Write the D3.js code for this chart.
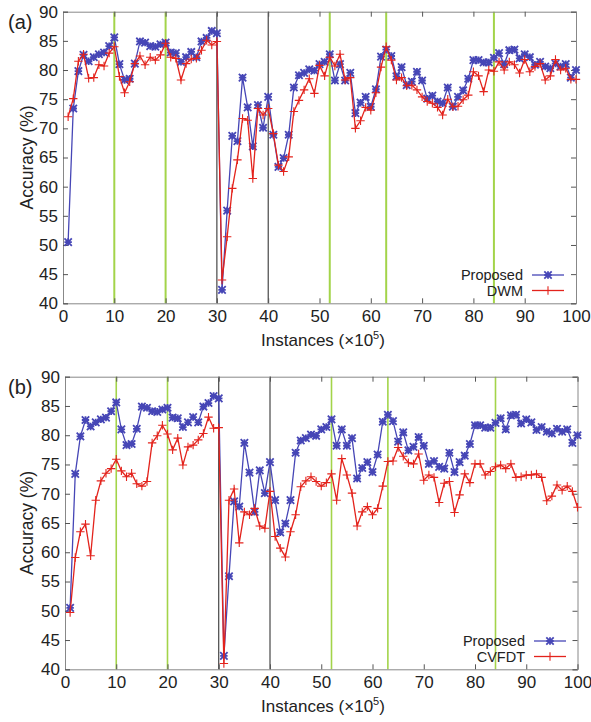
<!DOCTYPE html>
<html>
  <head>
    <title>Accuracy</title>
    <script src="https://d3js.org/d3.v7.min.js"></script>
    <style>
      body { margin: 0; background: #fff; }
      text { font-family: "Liberation Sans", Arial, sans-serif; fill: #222; }
    </style>
  </head>
  <body>
    <div id="chart"></div>
    <script>
      // Data (accuracy %, one value per 10^5 instances)
      const instances = [1,2,3,4,5,6,7,8,9,10,11,12,13,14,15,16,17,18,19,20,
        21,22,23,24,25,26,27,28,29,30,31,32,33,34,35,36,37,38,39,40,
        41,42,43,44,45,46,47,48,49,50,51,52,53,54,55,56,57,58,59,60,
        61,62,63,64,65,66,67,68,69,70,71,72,73,74,75,76,77,78,79,80,
        81,82,83,84,85,86,87,88,89,90,91,92,93,94,95,96,97,98,99,100];

      const proposed = [50.5,73.4,79.8,82.6,81.5,82.2,82.7,83.0,84.1,85.6,
        81.0,78.3,78.5,81.1,84.9,84.7,84.1,84.0,84.4,84.7,
        83.0,82.9,81.4,82.2,83.1,82.2,84.9,85.5,86.7,86.3,
        42.3,55.9,68.7,67.8,78.7,73.6,66.9,74.0,70.1,75.4,
        68.9,63.4,64.9,68.9,77.0,79.1,79.5,80.1,79.9,81.0,
        81.4,82.7,78.2,81.0,78.2,79.5,72.6,74.4,75.4,73.7,
        76.7,82.3,83.5,82.4,78.9,80.5,77.4,78.0,79.7,78.2,
        75.1,75.6,74.6,74.3,77.0,73.7,75.4,76.5,78.5,81.7,
        81.7,81.3,81.3,82.1,82.9,81.0,83.4,83.5,82.0,82.7,
        82.2,80.9,81.4,80.6,80.3,81.1,80.6,81.0,78.7,80.0];

      const dwm = [72.0,75.1,81.5,82.7,78.6,78.7,80.9,80.7,82.9,84.0,
        78.9,76.1,78.0,81.1,82.4,80.9,82.2,81.7,82.6,84.6,
        82.2,82.0,78.3,81.1,81.9,82.0,83.4,85.1,84.3,84.9,
        44.0,51.4,59.7,64.6,71.7,71.4,61.4,73.4,72.3,73.4,
        69.1,63.7,62.6,65.1,72.9,74.8,76.6,78.5,76.0,80.8,
        79.0,82.2,80.7,82.7,78.3,78.7,70.0,71.3,73.6,73.1,
        76.1,80.5,84.0,81.7,78.3,78.7,77.3,77.4,76.6,75.4,
        74.6,74.3,73.6,72.3,75.0,73.7,73.8,74.9,75.7,79.7,
        79.0,76.3,80.0,79.8,81.4,80.0,81.4,80.9,79.5,81.8,
        79.7,80.6,81.1,78.3,79.0,81.8,80.0,80.3,78.4,78.4];

      const cvfdt = [49.7,59.1,63.5,64.8,59.4,68.9,72.2,73.5,74.3,75.9,
        73.9,72.9,73.5,71.7,71.3,72.1,78.7,79.9,81.7,80.2,
        77.5,79.5,74.9,78.0,78.3,79.2,80.3,83.1,81.2,81.3,
        41.0,68.9,70.8,61.6,66.9,66.4,67.5,64.5,64.1,70.4,
        62.7,60.7,59.2,63.5,66.4,71.2,72.2,72.9,72.1,71.3,
        71.9,73.4,68.9,76.0,73.2,70.1,64.5,66.9,67.8,66.4,
        67.5,71.3,75.5,75.6,77.9,76.4,75.3,75.1,76.8,72.3,
        73.2,72.8,68.5,71.8,72.1,66.8,69.8,73.4,71.9,75.1,
        75.1,73.2,73.8,74.6,74.9,74.3,75.1,72.8,72.9,73.2,
        73.2,73.4,72.8,68.8,69.6,71.5,70.6,71.3,70.4,67.7];

      const greenLines = [10, 20, 52, 63, 84];
      const blackLines = [30, 40];
      const xTicks = [0,10,20,30,40,50,60,70,80,90,100];
      const yTicks = [40,45,50,55,60,65,70,75,80,85,90];

      const blue = '#4646b6';
      const red = '#e3231c';
      const green = '#a3d44a';

      const svg = d3.select('#chart').append('svg')
        .attr('width', 591)
        .attr('height', 722);

      function starPath(s) {
        return `M${-s},0H${s}M0,${-s}V${s}M${-s},${-s}L${s},${s}M${-s},${s}L${s},${-s}`;
      }
      function plusPath(s) {
        return `M${-s},0H${s}M0,${-s}V${s}`;
      }

      function drawPanel(opt) {
        const x = d3.scaleLinear().domain([0, 100]).range([opt.left, opt.right]);
        const y = d3.scaleLinear().domain([40, 90]).range([opt.bottom, opt.top]);
        const g = svg.append('g');

        // drift markers
        g.selectAll('.gl').data(greenLines).enter().append('line')
          .attr('x1', d => x(d)).attr('x2', d => x(d))
          .attr('y1', opt.top).attr('y2', opt.bottom)
          .attr('stroke', green).attr('stroke-width', opt.greenWidth);
        g.selectAll('.bl').data(blackLines).enter().append('line')
          .attr('x1', d => x(d)).attr('x2', d => x(d))
          .attr('y1', opt.top).attr('y2', opt.bottom)
          .attr('stroke', '#222').attr('stroke-width', 1);

        // axes (ticks inward, mirrored)
        g.append('g')
          .attr('transform', `translate(0,${opt.bottom})`)
          .call(d3.axisBottom(x).tickValues(xTicks).tickSize(-5).tickPadding(7));
        g.append('g')
          .attr('transform', `translate(0,${opt.top})`)
          .call(d3.axisTop(x).tickValues(xTicks).tickSize(-5).tickFormat(''));
        g.append('g')
          .attr('transform', `translate(${opt.left},0)`)
          .call(d3.axisLeft(y).tickValues(yTicks).tickSize(-5).tickPadding(5));
        g.append('g')
          .attr('transform', `translate(${opt.right},0)`)
          .call(d3.axisRight(y).tickValues(yTicks).tickSize(-5).tickFormat(''));
        g.selectAll('.domain').attr('stroke', '#888');
        g.selectAll('.tick line').attr('stroke', '#555');
        g.selectAll('.tick text').style('font-size', '17px')
          .style('font-family', '"Liberation Sans", Arial, sans-serif').attr('fill', '#222');

        // series
        const line = d3.line().x((d, i) => x(instances[i])).y(d => y(d));
        const series = [
          { values: proposed, color: blue, marker: starPath(3.7), mw: 1.8 },
          { values: opt.other, color: red, marker: plusPath(4.2), mw: 1.1 }
        ];
        series.forEach(s => {
          g.append('path').datum(s.values)
            .attr('d', line).attr('fill', 'none')
            .attr('stroke', s.color).attr('stroke-width', 1.3);
          g.selectAll(null).data(s.values).enter().append('path')
            .attr('transform', (d, i) => `translate(${x(instances[i])},${y(d)})`)
            .attr('d', s.marker).attr('fill', 'none')
            .attr('stroke', s.color).attr('stroke-width', s.mw);
        });

        // legend
        const legend = [
          { name: 'Proposed', color: blue, marker: starPath(3.7), mw: 1.8 },
          { name: opt.otherName, color: red, marker: plusPath(4.2), mw: 1.1 }
        ];
        legend.forEach((l, i) => {
          const ly = opt.legendY + i * 15.5;
          g.append('text').attr('x', opt.legendX).attr('y', ly + 5)
            .attr('text-anchor', 'end').style('font-size', '14.5px').text(l.name);
          g.append('line').attr('x1', opt.legendX + 9).attr('x2', opt.legendX + 41)
            .attr('y1', ly).attr('y2', ly)
            .attr('stroke', l.color).attr('stroke-width', 1.3);
          g.append('path').attr('transform', `translate(${opt.legendX + 25},${ly})`)
            .attr('d', l.marker).attr('fill', 'none')
            .attr('stroke', l.color).attr('stroke-width', l.mw);
        });

        // labels
        g.append('text').attr('x', 8).attr('y', opt.top + 17)
          .style('font-size', '20px').text(opt.tag);
        g.append('text')
          .attr('transform', `translate(33,${(opt.top + opt.bottom) / 2}) rotate(-90)`)
          .attr('text-anchor', 'middle').style('font-size', '17.5px').text('Accuracy (%)');
        const xl = g.append('text').attr('x', 323).attr('y', opt.bottom + 43)
          .attr('text-anchor', 'middle').style('font-size', '17px');
        xl.append('tspan').text('Instances (×10');
        xl.append('tspan').attr('dy', -7).style('font-size', '11px').text('5');
        xl.append('tspan').attr('dy', 7).text(')');
      }

      drawPanel({ left: 63, right: 576, top: 11.7, bottom: 303.3, other: dwm, otherName: 'DWM',
        tag: '(a)', legendX: 523, legendY: 275, greenWidth: 2 });
      drawPanel({ left: 65, right: 577.5, top: 376.7, bottom: 669.3, other: cvfdt, otherName: 'CVFDT',
        tag: '(b)', legendX: 525, legendY: 641, greenWidth: 1.6 });
    </script>
  </body>
</html>
